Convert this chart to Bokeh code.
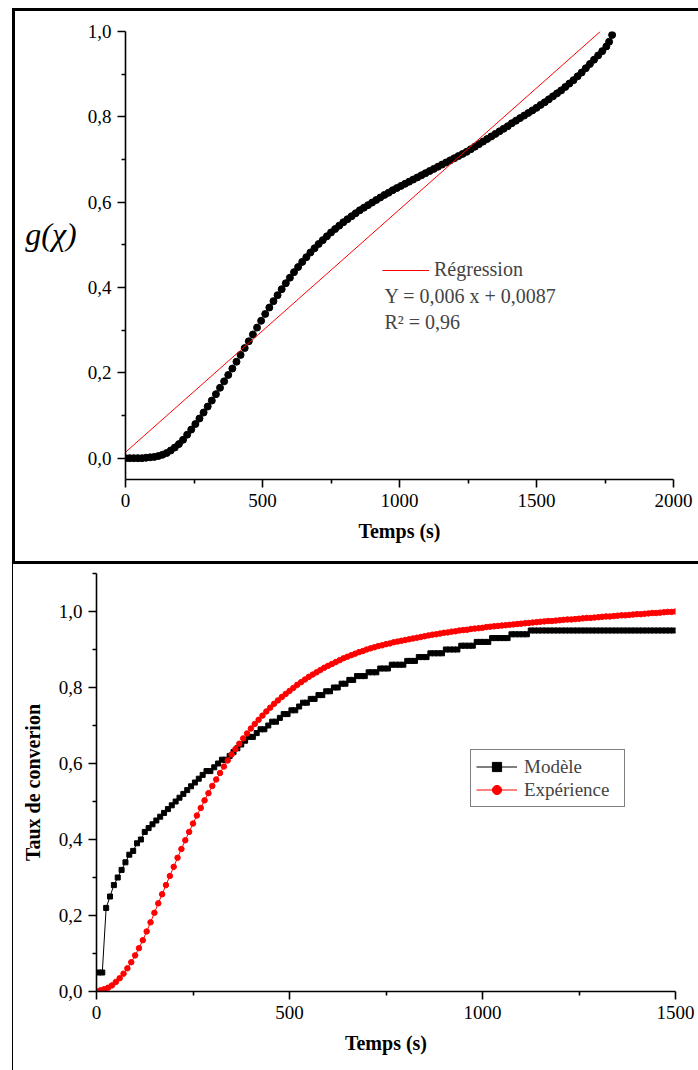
from bokeh.plotting import figure
from bokeh.models import (Range1d, FixedTicker, CustomJSTickFormatter, Label, Legend,
                          LegendItem)
from bokeh.layouts import column
from bokeh.embed import file_html
from bokeh.resources import INLINE

SERIF = "Liberation Serif"

# ---------------- top panel data: g(chi) vs time ----------------
top_t = [0, 15, 30, 45, 60, 75, 90, 105, 120, 135,
         150, 165, 180, 195, 210, 225, 240, 255, 270, 285,
         300, 315, 330, 345, 360, 375, 390, 405, 420, 435,
         450, 465, 480, 495, 510, 525, 540, 555, 570, 585,
         600, 615, 630, 645, 660, 675, 690, 705, 720, 735,
         750, 765, 780, 795, 810, 825, 840, 855, 870, 885,
         900, 915, 930, 945, 960, 975, 990, 1005, 1020, 1035,
         1050, 1065, 1080, 1095, 1110, 1125, 1140, 1155, 1170, 1185,
         1200, 1215, 1230, 1245, 1260, 1275, 1290, 1305, 1320, 1335,
         1350, 1365, 1380, 1395, 1410, 1425, 1440, 1455, 1470, 1485,
         1500, 1515, 1530, 1545, 1560, 1575, 1590, 1605, 1620, 1635,
         1650, 1665, 1680, 1695, 1710, 1725, 1740, 1755, 1765, 1776]
top_g = [0.000, 0.000, 0.000, 0.000, 0.000, 0.001, 0.002, 0.003, 0.005, 0.008,
         0.012, 0.018, 0.025, 0.033, 0.043, 0.055, 0.067, 0.080, 0.093, 0.107,
         0.121, 0.135, 0.150, 0.165, 0.180, 0.195, 0.210, 0.226, 0.242, 0.258,
         0.274, 0.290, 0.306, 0.322, 0.338, 0.353, 0.368, 0.382, 0.396, 0.410,
         0.423, 0.436, 0.448, 0.460, 0.471, 0.482, 0.492, 0.502, 0.511, 0.520,
         0.529, 0.537, 0.545, 0.553, 0.560, 0.567, 0.574, 0.581, 0.587, 0.593,
         0.599, 0.605, 0.611, 0.617, 0.622, 0.628, 0.633, 0.638, 0.643, 0.648,
         0.653, 0.658, 0.663, 0.668, 0.673, 0.678, 0.683, 0.688, 0.693, 0.698,
         0.703, 0.708, 0.713, 0.718, 0.724, 0.730, 0.736, 0.742, 0.748, 0.754,
         0.760, 0.766, 0.772, 0.778, 0.785, 0.791, 0.797, 0.803, 0.809, 0.815,
         0.821, 0.828, 0.834, 0.841, 0.848, 0.855, 0.862, 0.870, 0.878, 0.886,
         0.895, 0.904, 0.914, 0.924, 0.934, 0.944, 0.954, 0.965, 0.976, 0.992]
reg_t = [0, 1733]
reg_g = [0.014, 1.0]
top_xticks = [0, 500, 1000, 1500, 2000]
top_xminor = [250, 750, 1250, 1750]
top_yticks = [0.0, 0.2, 0.4, 0.6, 0.8, 1.0]
top_yminor = [0.1, 0.3, 0.5, 0.7, 0.9]
reg_label = "Régression"
eq_text = "Y = 0,006 x + 0,0087"
r2_text = "R² = 0,96"

# ---------------- bottom panel data: conversion vs time ----------------
model_t = [5, 15, 25, 35, 45, 55, 65, 75, 85, 95,
           105, 115, 125, 135, 145, 155, 165, 175, 185, 195,
           205, 215, 225, 235, 245, 255, 265, 275, 285, 295,
           305, 315, 325, 335, 345, 355, 365, 375, 385, 395,
           405, 415, 425, 435, 445, 455, 465, 475, 485, 495,
           505, 515, 525, 535, 545, 555, 565, 575, 585, 595,
           605, 615, 625, 635, 645, 655, 665, 675, 685, 695,
           705, 715, 725, 735, 745, 755, 765, 775, 785, 795,
           805, 815, 825, 835, 845, 855, 865, 875, 885, 895,
           905, 915, 925, 935, 945, 955, 965, 975, 985, 995,
           1005, 1015, 1025, 1035, 1045, 1055, 1065, 1075, 1085, 1095,
           1105, 1115, 1125, 1135, 1145, 1155, 1165, 1175, 1185, 1195,
           1205, 1215, 1225, 1235, 1245, 1255, 1265, 1275, 1285, 1295,
           1305, 1315, 1325, 1335, 1345, 1355, 1365, 1375, 1385, 1395,
           1405, 1415, 1425, 1435, 1445, 1455, 1465, 1475, 1485, 1495]
model_g = [0.05, 0.05, 0.22, 0.25, 0.28, 0.30, 0.32, 0.34, 0.36, 0.37,
           0.39, 0.40, 0.42, 0.43, 0.44, 0.45, 0.46, 0.47, 0.48, 0.49,
           0.50, 0.51, 0.52, 0.53, 0.54, 0.55, 0.56, 0.57, 0.58, 0.58,
           0.59, 0.60, 0.61, 0.61, 0.62, 0.63, 0.64, 0.65, 0.66, 0.67,
           0.67, 0.68, 0.69, 0.69, 0.70, 0.71, 0.71, 0.72, 0.73, 0.73,
           0.74, 0.74, 0.75, 0.76, 0.76, 0.77, 0.77, 0.78, 0.78, 0.79,
           0.79, 0.80, 0.80, 0.81, 0.81, 0.82, 0.82, 0.83, 0.83, 0.83,
           0.84, 0.84, 0.84, 0.85, 0.85, 0.85, 0.86, 0.86, 0.86, 0.86,
           0.87, 0.87, 0.87, 0.88, 0.88, 0.88, 0.89, 0.89, 0.89, 0.89,
           0.90, 0.90, 0.90, 0.90, 0.91, 0.91, 0.91, 0.91, 0.92, 0.92,
           0.92, 0.92, 0.93, 0.93, 0.93, 0.93, 0.93, 0.94, 0.94, 0.94,
           0.94, 0.94, 0.95, 0.95, 0.95, 0.95, 0.95, 0.95, 0.95, 0.95,
           0.95, 0.95, 0.95, 0.95, 0.95, 0.95, 0.95, 0.95, 0.95, 0.95,
           0.95, 0.95, 0.95, 0.95, 0.95, 0.95, 0.95, 0.95, 0.95, 0.95,
           0.95, 0.95, 0.95, 0.95, 0.95, 0.95, 0.95, 0.95, 0.95, 0.95]
exp_t = [0, 10, 20, 30, 40, 50, 60, 70, 80, 90,
         100, 110, 120, 130, 140, 150, 160, 170, 180, 190,
         200, 210, 220, 230, 240, 250, 260, 270, 280, 290,
         300, 310, 320, 330, 340, 350, 360, 370, 380, 390,
         400, 410, 420, 430, 440, 450, 460, 470, 480, 490,
         500, 510, 520, 530, 540, 550, 560, 570, 580, 590,
         600, 610, 620, 630, 640, 650, 660, 670, 680, 690,
         700, 710, 720, 730, 740, 750, 760, 770, 780, 790,
         800, 810, 820, 830, 840, 850, 860, 870, 880, 890,
         900, 910, 920, 930, 940, 950, 960, 970, 980, 990,
         1000, 1010, 1020, 1030, 1040, 1050, 1060, 1070, 1080, 1090,
         1100, 1110, 1120, 1130, 1140, 1150, 1160, 1170, 1180, 1190,
         1200, 1210, 1220, 1230, 1240, 1250, 1260, 1270, 1280, 1290,
         1300, 1310, 1320, 1330, 1340, 1350, 1360, 1370, 1380, 1390,
         1400, 1410, 1420, 1430, 1440, 1450, 1460, 1470, 1480, 1490,
         1500]
exp_g = [0.000, 0.003, 0.006, 0.010, 0.016, 0.025, 0.035, 0.047, 0.061, 0.077,
         0.095, 0.114, 0.135, 0.158, 0.182, 0.207, 0.232, 0.256, 0.280, 0.304,
         0.328, 0.352, 0.375, 0.398, 0.420, 0.442, 0.463, 0.483, 0.503, 0.522,
         0.541, 0.558, 0.575, 0.592, 0.608, 0.624, 0.638, 0.652, 0.666, 0.679,
         0.692, 0.704, 0.715, 0.726, 0.737, 0.747, 0.757, 0.766, 0.775, 0.783,
         0.791, 0.799, 0.807, 0.814, 0.821, 0.828, 0.834, 0.840, 0.846, 0.852,
         0.857, 0.862, 0.867, 0.872, 0.877, 0.881, 0.885, 0.889, 0.893, 0.896,
         0.900, 0.903, 0.906, 0.909, 0.911, 0.914, 0.916, 0.919, 0.921, 0.923,
         0.925, 0.927, 0.929, 0.931, 0.933, 0.935, 0.937, 0.939, 0.940, 0.942,
         0.944, 0.945, 0.947, 0.948, 0.950, 0.951, 0.952, 0.954, 0.955, 0.956,
         0.957, 0.959, 0.960, 0.961, 0.962, 0.963, 0.964, 0.965, 0.966, 0.967,
         0.968, 0.969, 0.970, 0.971, 0.972, 0.973, 0.974, 0.975, 0.975, 0.976,
         0.977, 0.978, 0.979, 0.979, 0.980, 0.981, 0.982, 0.983, 0.983, 0.984,
         0.985, 0.986, 0.987, 0.987, 0.988, 0.989, 0.990, 0.990, 0.991, 0.992,
         0.993, 0.993, 0.994, 0.995, 0.996, 0.996, 0.997, 0.998, 0.999, 0.999,
         1.000]
bot_xticks = [0, 500, 1000, 1500]
bot_xminor = [250, 750, 1250]
bot_yticks = [0.0, 0.2, 0.4, 0.6, 0.8, 1.0]
bot_yminor = [0.1, 0.3, 0.5, 0.7, 0.9, 1.1]
legend_labels = ["Modèle", "Expérience"]

W = 698
H1 = 564
H2 = 506

comma_fmt = CustomJSTickFormatter(code="return tick.toFixed(1).replace('.', ',');")
int_fmt = CustomJSTickFormatter(code="return tick.toFixed(0);")


def style_axes(p, xt, xm, yt, ym):
    p.xgrid.visible = False
    p.ygrid.visible = False
    p.outline_line_color = None
    p.background_fill_color = "white"
    p.border_fill_color = None
    p.frame_align = False
    p.xaxis.ticker = FixedTicker(ticks=xt, minor_ticks=xm)
    p.yaxis.ticker = FixedTicker(ticks=yt, minor_ticks=ym)
    p.xaxis.formatter = int_fmt
    p.yaxis.formatter = comma_fmt
    for ax in (p.xaxis[0], p.yaxis[0]):
        ax.axis_line_color = "black"
        ax.axis_line_width = 1.6
        ax.major_tick_out = 8
        ax.major_tick_in = 0
        ax.minor_tick_out = 4
        ax.minor_tick_in = 0
        ax.major_tick_line_width = 1.6
        ax.minor_tick_line_width = 1.6
        ax.major_tick_line_color = "black"
        ax.minor_tick_line_color = "black"
        ax.major_label_text_font = SERIF
        ax.major_label_text_font_size = "19px"
        ax.major_label_text_color = "black"
        ax.major_label_standoff = 6
        ax.axis_label_text_font = SERIF
        ax.axis_label_text_font_size = "20px"
        ax.axis_label_text_font_style = "bold"
        ax.axis_label_text_color = "black"
        ax.axis_label_standoff = 10


# ---------------- top figure ----------------
p1 = figure(width=W, height=H1, x_range=Range1d(0, 2000), y_range=Range1d(-0.05, 1.0),
            output_backend="svg", toolbar_location=None,
            min_border_left=125, min_border_right=25, min_border_top=31, min_border_bottom=85)
style_axes(p1, top_xticks, top_xminor, top_yticks, top_yminor)
p1.xaxis.axis_label = "Temps (s)"
p1.yaxis.axis_label = "g(χ)\n "
p1.yaxis.axis_label_orientation = "horizontal"
p1.yaxis.axis_label_text_font_style = "italic"
p1.yaxis.axis_label_text_font_size = "32px"
p1.yaxis.axis_label_standoff = 8
p1.styles = {"box-shadow": "inset 12px 8px 0 0 white, inset 15px 11px 0 0 black, "
                           "inset 0 -3px 0 0 black"}

p1.scatter(top_t, top_g, marker="circle", size=7, color="black")
reg = p1.line(reg_t, reg_g, line_color="red", line_width=1)

leg1 = Legend(items=[LegendItem(label=reg_label, renderers=[reg])],
              location=(257, 198), border_line_color=None, background_fill_alpha=0,
              padding=0, margin=0, glyph_width=47, glyph_height=22, label_height=22,
              label_standoff=5, label_text_font=SERIF, label_text_font_size="20px")
p1.add_layout(leg1)
p1.add_layout(Label(x=945, y=0.379, text=eq_text, text_font=SERIF, text_font_size="20px",
                    text_baseline="middle", text_align="left"))
p1.add_layout(Label(x=945, y=0.318, text=r2_text, text_font=SERIF, text_font_size="20px",
                    text_baseline="middle", text_align="left"))

# ---------------- bottom figure ----------------
p2 = figure(width=W, height=H2, x_range=Range1d(0, 1500), y_range=Range1d(0, 1.1),
            output_backend="svg", toolbar_location=None,
            min_border_left=96, min_border_right=23, min_border_top=9, min_border_bottom=79)
style_axes(p2, bot_xticks, bot_xminor, bot_yticks, bot_yminor)
p2.xaxis.axis_label = "Temps (s)"
p2.yaxis.axis_label = "Taux de converion"
p2.yaxis.axis_label_standoff = 12
p2.styles = {"box-shadow": "inset 12px 0 0 0 white, inset 13px 0 0 0 black"}

ml = p2.line(model_t, model_g, line_color="black", line_width=1)
ms = p2.scatter(model_t, model_g, marker="square", size=5, color="black")
el = p2.line(exp_t, exp_g, line_color="red", line_width=1)
es = p2.scatter(exp_t, exp_g, marker="circle", size=5.5, color="red")

leg2 = Legend(items=[LegendItem(label=legend_labels[0], renderers=[ml, ms]),
                     LegendItem(label=legend_labels[1], renderers=[el, es])],
              location=(374, 184), border_line_color="black", border_line_width=1,
              background_fill_color="white", background_fill_alpha=1,
              padding=5, margin=0, spacing=0, glyph_width=41, glyph_height=23,
              label_height=23, label_width=95, label_standoff=7, label_text_font=SERIF,
              label_text_font_size="19px")
p2.add_layout(leg2)

layout = column(p1, p2, spacing=0)
with open("out.html", "w", encoding="utf-8") as f:
    f.write(file_html(layout, INLINE, title="chart"))
